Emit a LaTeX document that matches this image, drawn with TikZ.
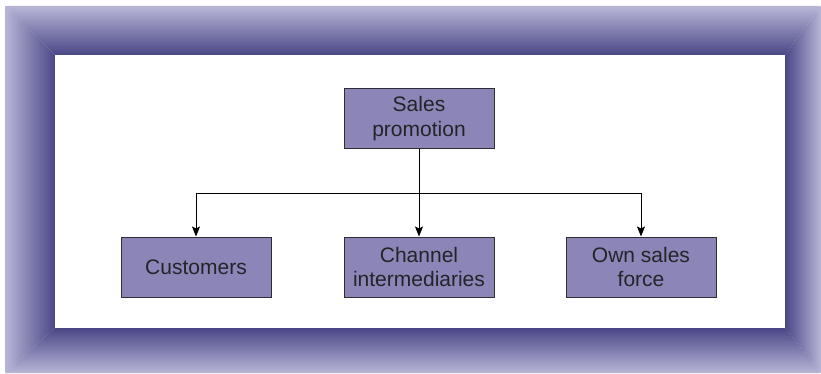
\documentclass[tikz,border=0pt]{standalone}
\usepackage{fontspec}
\setmainfont{Liberation Sans}
\usetikzlibrary{arrows.meta}
\definecolor{frlight}{RGB}{184,182,215}
\definecolor{frdark}{RGB}{74,71,135}
\definecolor{boxfill}{RGB}{140,134,184}
\definecolor{boxline}{RGB}{45,45,50}
\definecolor{txt}{RGB}{35,35,40}
\tikzset{
  box/.style={draw=boxline, line width=1pt, fill=boxfill, minimum width=150pt, minimum height=60pt,
    inner sep=0pt, align=center, text=txt, font=\fontsize{21}{24.5}\selectfont},
  conn/.style={draw=black, line width=0.9pt},
  arr/.style={conn, -{Stealth[length=10pt,width=8pt,inset=2pt]}}
}
\begin{document}
\begin{tikzpicture}[x=1pt,y=-1pt]
\useasboundingbox (0,0) rectangle (821,374);
\fill[white] (0,0) rectangle (821,374);
% bevelled frame
\shade[top color=frlight, bottom color=frdark] (5,6) -- (821,6) -- (785,55) -- (55,55) -- cycle;
\shade[top color=frdark, bottom color=frlight] (55,328) -- (785,328) -- (821,373) -- (5,373) -- cycle;
\shade[left color=frlight, right color=frdark] (5,6) -- (55,55) -- (55,328) -- (5,373) -- cycle;
\shade[left color=frdark, right color=frlight] (785,55) -- (821,6) -- (821,373) -- (785,328) -- cycle;
\fill[white] (55,55) rectangle (785,328);
% nodes
\node[box] (sp) at (419,118.5) {Sales\\promotion};
\node[box] (cu) at (196,267) {Customers};
\node[box] (ch) at (419,267) {Channel\\intermediaries};
\node[box] (os) at (641,267) {Own sales\\force};
\coordinate (bus) at (419,193);
\draw[arr] (sp) -- (ch);
\draw[arr] (bus) -| (cu.north);
\draw[arr] (bus) -| (os.north);
\end{tikzpicture}
\end{document}
